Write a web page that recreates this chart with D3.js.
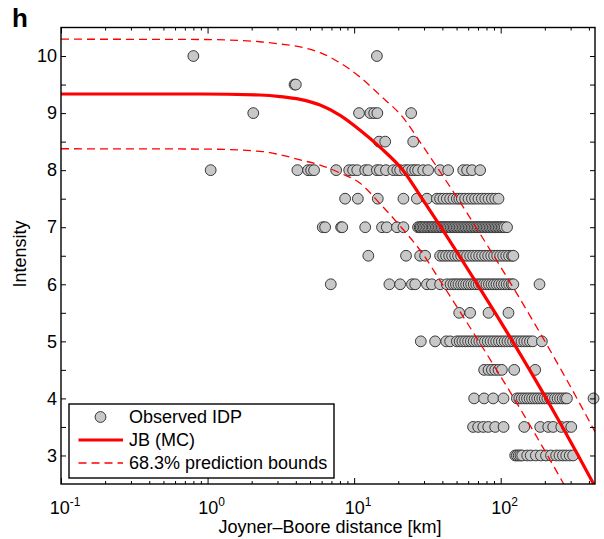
<!DOCTYPE html>
<html><head><meta charset="utf-8">
<script src="https://cdn.jsdelivr.net/npm/d3@7"></script>
<style>
body{margin:0;background:#fff}
svg{display:block}
text{font-family:"Liberation Sans",Arial,Helvetica,sans-serif;fill:#000}
</style>
</head><body><svg id="c" width="604" height="539"></svg>
<script>
// ---------- DATA ----------
const intensityLevels = [10, 9.5, 9, 8.5, 8, 7.5, 7, 6.5, 6, 5.5, 5, 4.5, 4, 3.5, 3];
const distancesByLevel = [
  [0.80, 14.3],
  [3.92, 4.0],
  [2.05, 10.8, 12.9, 13.7, 14.4, 24.5],
  [14.8, 16.3, 25.3],
  [1.05, 4.10, 4.85, 5.09, 5.33, 7.54, 9.25, 9.84, 10.5, 11.9, 12.5, 14.3, 15.0, 16.5, 18.5, 19.7, 20.6, 22.3, 23.4, 24.9, 26.1, 27.3, 29.6, 32.0, 38.6, 43.8, 55.5, 59.0, 63.8, 72.4],
  [8.68, 10.6, 14.5, 21.7, 26.8, 31.4, 36.7, 38.6, 40.7, 42.9, 45.2, 47.6, 50.2, 52.2, 54.3, 57.2, 60.3, 63.6, 66.9, 70.5, 74.4, 78.4, 82.6, 87.1, 91.7, 96.6],
  [6.11, 6.34, 8.15, 8.3, 11.9, 15.5, 16.7, 19.6, 21.7, 27.3, 28.0, 28.5, 29.2, 29.9, 30.6, 31.4, 32.1, 32.9, 33.7, 34.4, 35.2, 36.1, 36.9, 37.8, 38.7, 39.6, 40.5, 41.5, 42.5, 43.5, 44.5, 45.6, 46.7, 47.8, 48.9, 50.1, 51.3, 52.5, 53.8, 55.1, 56.4, 57.7, 59.1, 60.5, 61.9, 63.4, 64.9, 66.5, 68.1, 69.7, 71.3, 73.0, 74.8, 76.6, 78.4, 80.2, 82.1, 84.1, 86.1, 88.2, 90.3, 92.4, 94.6, 96.9, 99.2, 101.6, 104.0, 106.5, 110.5],
  [12.5, 22.6, 28.2, 30.5, 38.6, 40.5, 42.4, 44.5, 46.6, 48.9, 51.2, 53.7, 56.3, 59.0, 61.9, 64.9, 68.0, 71.3, 74.7, 78.3, 82.1, 86.1, 90.2, 94.6, 99.2, 104, 109, 114, 119.5, 122],
  [6.93, 17.4, 20.6, 24.8, 26.1, 31.4, 33.9, 38.6, 42.9, 45.5, 47.6, 49.5, 51.5, 53.7, 55.8, 58.1, 60.5, 62.9, 65.5, 68.1, 70.9, 73.8, 76.8, 79.9, 83.1, 86.5, 90.0, 93.6, 97.4, 101.4, 105.5, 109.8, 114.2, 118.8, 122, 184],
  [52.1, 61.9, 82.6, 113],
  [28.5, 35.7, 42.5, 45.2, 50.2, 52.5, 54.8, 57.3, 59.9, 62.6, 65.4, 68.4, 71.5, 74.7, 78.1, 81.6, 85.3, 89.2, 93.2, 97.4, 101.8, 106.4, 111.2, 116.2, 121.5, 127, 132.7, 138.7, 145, 151.5, 158.4, 165.5, 191],
  [77.1, 82.6, 87.1, 91.7, 96.6, 101.9, 123.6, 171.9],
  [65.9, 77.1, 88.9, 104.5, 129, 134, 139.5, 145.2, 151.1, 157.3, 163.7, 170.4, 177.4, 184.6, 192.2, 200, 208.2, 216.7, 225.6, 234.8, 244.4, 254.4, 264.8, 275.6, 283, 430],
  [64.8, 70.2, 76.0, 82.2, 91.7, 104.6, 144.7, 186, 211, 228, 259, 284, 303],
  [125.6, 129, 132.7, 136.5, 140.3, 151.7, 160.3, 173.7, 188, 203.8, 220.4, 239.1, 251.8, 265.9, 280, 295.8, 312]
];
const fitDistance    = [0.1, 0.89, 2.28, 3.13, 4.28, 5.86, 8.02, 10.99, 15.05, 21.6, 29.1, 39.1, 52.2, 69.3, 91.7, 120.6, 157.5, 204.5, 263.8, 338, 430.6, 440];
const fitIntensity   = [9.335, 9.335, 9.317, 9.29, 9.24, 9.14, 8.96, 8.70, 8.40, 7.994, 7.5, 7.0, 6.5, 6.0, 5.5, 5.0, 4.5, 4.0, 3.5, 3.0, 2.5, 2.455];
const upperIntensity = [10.295, 10.29, 10.25, 10.21, 10.16, 10.06, 9.88, 9.63, 9.31, 8.92, 8.44, 7.95, 7.46, 6.96, 6.46, 5.96, 5.46, 4.96, 4.46, 3.96, 3.46, 3.415];
const lowerIntensity = [8.375, 8.37, 8.33, 8.27, 8.18, 8.09, 7.95, 7.77, 7.41, 6.96, 6.55, 6.04, 5.54, 5.04, 4.54, 4.04, 3.54, 3.04, 2.54, 2.04, 1.54, 1.495];
const xDecades = [0.1, 1, 10, 100];
const xDecadeExponents = ["-1", "0", "1", "2"];
const yTickValues = [3, 3.5, 4, 4.5, 5, 5.5, 6, 6.5, 7, 7.5, 8, 8.5, 9, 9.5, 10];
const yTickLabels = ["3", "", "4", "", "5", "", "6", "", "7", "", "8", "", "9", "", "10"];
const legendLabels = ["Observed IDP", "JB (MC)", "68.3% prediction bounds"];

// ---------- CHART ----------
const svg = d3.select("#c");
const L = 61, R = 595, T = 27.5, B = 484;
const x = d3.scaleLog().domain([0.1, 440]).range([L, R]);
const y = d3.scaleLinear().domain([2.5, 10.5]).range([B, T]);

svg.append("clipPath").attr("id", "clip").append("rect")
  .attr("x", L).attr("y", T).attr("width", R - L).attr("height", B - T);

// points
const pts = [];
intensityLevels.forEach((lv, i) => distancesByLevel[i].forEach(d => pts.push([d, lv])));
svg.append("g").selectAll("circle").data(pts).join("circle")
  .attr("cx", d => x(d[0])).attr("cy", d => y(d[1])).attr("r", 5.4)
  .attr("fill", "#c8c8c8").attr("stroke", "#383838").attr("stroke-width", 1);

// curves
const line = d3.line().x(d => x(d[0])).y(d => y(d[1])).curve(d3.curveMonotoneX);
const gl = svg.append("g").attr("clip-path", "url(#clip)");
[upperIntensity, lowerIntensity].forEach(arr => {
  gl.append("path").attr("d", line(fitDistance.map((d, i) => [d, arr[i]])))
    .attr("fill", "none").attr("stroke", "#ff0000").attr("stroke-width", 1.3)
    .attr("stroke-dasharray", "8,5");
});
gl.append("path").attr("d", line(fitDistance.map((d, i) => [d, fitIntensity[i]])))
  .attr("fill", "none").attr("stroke", "#ff0000").attr("stroke-width", 3.2);

// axes ticks
const minorX = x.ticks().filter(v => !xDecades.some(dv => Math.abs(dv - v) < 1e-9));
function strip(g) { g.select(".domain").remove(); g.selectAll("line").attr("stroke", "#000"); }
svg.append("g").attr("transform", `translate(0,${B})`)
  .call(d3.axisBottom(x).tickValues(minorX).tickSize(-3).tickFormat("")).call(strip);
svg.append("g").attr("transform", `translate(0,${B})`)
  .call(d3.axisBottom(x).tickValues(xDecades).tickSize(-6).tickFormat("")).call(strip);
svg.append("g").attr("transform", `translate(0,${T})`)
  .call(d3.axisTop(x).tickValues(minorX).tickSize(-3).tickFormat("")).call(strip);
svg.append("g").attr("transform", `translate(0,${T})`)
  .call(d3.axisTop(x).tickValues(xDecades).tickSize(-6).tickFormat("")).call(strip);

const yl = svg.append("g").attr("transform", `translate(${L},0)`)
  .call(d3.axisLeft(y).tickValues(yTickValues).tickSize(-5).tickPadding(4)
    .tickFormat((d, i) => yTickLabels[i])).call(strip);
yl.selectAll("text").attr("font-size", 18).attr("font-family", null).attr("fill", "#000");
svg.append("g").attr("transform", `translate(${R},0)`)
  .call(d3.axisRight(y).tickValues(yTickValues).tickSize(-5).tickFormat("")).call(strip);

// frame
svg.append("rect").attr("x", L).attr("y", T).attr("width", R - L).attr("height", B - T)
  .attr("fill", "none").attr("stroke", "#000").attr("stroke-width", 1.4);

// x tick labels with superscripts
xDecades.forEach((v, i) => {
  const t = svg.append("text").attr("x", x(v) + 4).attr("y", 514)
    .attr("text-anchor", "middle").attr("font-size", 18);
  t.append("tspan").text("10");
  t.append("tspan").attr("dy", -8).attr("font-size", 12).text(xDecadeExponents[i]);
});

// axis titles
svg.append("text").attr("x", 330).attr("y", 533).attr("text-anchor", "middle")
  .attr("font-size", 18).text("Joyner\u2013Boore distance [km]");
svg.append("text").attr("transform", "translate(26,254) rotate(-90)")
  .attr("text-anchor", "middle").attr("font-size", 18).text("Intensity");
svg.append("text").attr("x", 12).attr("y", 27).attr("font-size", 26)
  .attr("font-weight", "bold").text("h");

// legend
const lg = svg.append("g");
lg.append("rect").attr("x", 69).attr("y", 404).attr("width", 265).attr("height", 74)
  .attr("fill", "#fff").attr("stroke", "#000").attr("stroke-width", 1.4);
lg.append("circle").attr("cx", 100.5).attr("cy", 417).attr("r", 5.4)
  .attr("fill", "#c8c8c8").attr("stroke", "#383838");
lg.append("line").attr("x1", 78.5).attr("x2", 123).attr("y1", 440).attr("y2", 440)
  .attr("stroke", "#ff0000").attr("stroke-width", 3.2);
lg.append("line").attr("x1", 78.5).attr("x2", 123).attr("y1", 463).attr("y2", 463)
  .attr("stroke", "#ff0000").attr("stroke-width", 1.3).attr("stroke-dasharray", "8,5");
legendLabels.forEach((s, i) => {
  lg.append("text").attr("x", 129).attr("y", 423 + i * 23).attr("font-size", 18).text(s);
});
</script>
</body></html>
